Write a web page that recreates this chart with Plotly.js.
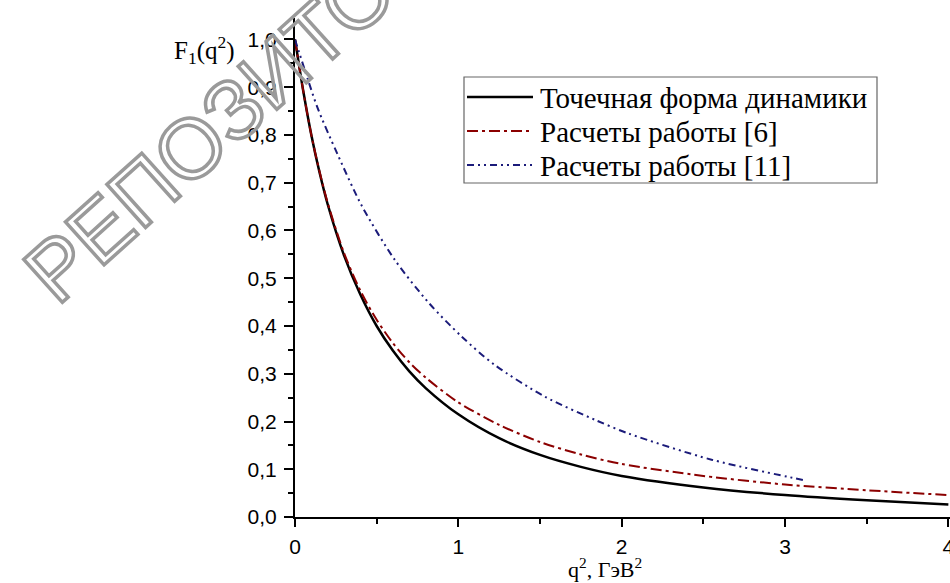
<!DOCTYPE html>
<html>
<head>
<meta charset="utf-8">
<script src="https://cdn.plot.ly/plotly-3.0.1.min.js"></script>
<style>html,body{margin:0;padding:0;background:#fff;}</style>
</head>
<body>
<div id="chart" style="width:950px;height:583px;"></div>
<script>
// Series names
const seriesNames = ["Точечная форма динамики", "Расчеты работы [6]", "Расчеты работы [11]"];

// Точечная форма динамики (black solid)
const xBlack = [0, 0.05, 0.1, 0.15, 0.2, 0.3, 0.4, 0.5, 0.6, 0.7, 0.8, 1.0, 1.25, 1.5, 1.75, 2.0, 2.5, 3.0, 3.5, 4.0];
const yBlack = [1.0, 0.893, 0.80, 0.722, 0.655, 0.548, 0.466, 0.40, 0.348, 0.305, 0.27, 0.215, 0.165, 0.13, 0.105, 0.086, 0.062, 0.046, 0.035, 0.026];

// Расчеты работы [6] (dark red dash-dot)
const xRed = [0, 0.05, 0.1, 0.15, 0.2, 0.3, 0.4, 0.5, 0.6, 0.7, 0.8, 1.0, 1.25, 1.5, 1.75, 2.0, 2.5, 3.0, 3.5, 4.0];
const yRed = [1.0, 0.893, 0.80, 0.724, 0.658, 0.553, 0.474, 0.413, 0.364, 0.324, 0.292, 0.24, 0.193, 0.157, 0.131, 0.111, 0.086, 0.068, 0.056, 0.046];

// Расчеты работы [11] (navy dash-dot-dot)
const xBlue = [0, 0.08, 0.14, 0.26, 0.41, 0.61, 0.82, 1.02, 1.22, 1.53, 1.84, 2.04, 2.55, 3.06, 3.13];
const yBlue = [1.0, 0.915, 0.855, 0.76, 0.651, 0.539, 0.448, 0.378, 0.319, 0.252, 0.203, 0.175, 0.12, 0.081, 0.076];

// Tick labels
const xTickVals = [0, 1, 2, 3, 4];
const xTickText = ["0", "1", "2", "3", "4"];

const colors = ["#000000", "#8b0000", "#1b1b7a"];
const dashes = ["solid", "11px,4px,3px,4px", "7px,4px,2px,4px,2px,4px"];
const widths = [2.5, 2, 2];

const traces = [
  {x: xBlack, y: yBlack},
  {x: xRed, y: yRed},
  {x: xBlue, y: yBlue}
].map((d, i) => ({
  x: d.x, y: d.y, type: "scatter", mode: "lines", name: seriesNames[i],
  line: {color: colors[i], width: widths[i], dash: dashes[i], shape: "spline", smoothing: 0.8},
  showlegend: false, hoverinfo: "skip"
}));

// custom legend (box + sample lines + labels), paper coordinates
const plotL = 295, plotR = 950, plotT = 18, plotB = 517;
const px = v => (v - plotL) / (plotR - plotL);
const py = v => (plotB - v) / (plotB - plotT);

const shapes = [
  {type: "rect", xref: "paper", yref: "paper", x0: px(464), x1: px(877), y0: py(183), y1: py(77),
   line: {color: "#666", width: 1.2}, fillcolor: "rgba(255,255,255,0)"}
];
const annotations = [];
const rowY = [97, 131, 165];
seriesNames.forEach((n, i) => {
  shapes.push({type: "line", xref: "paper", yref: "paper", x0: px(467), x1: px(533), y0: py(rowY[i]), y1: py(rowY[i]),
    line: {color: colors[i], width: widths[i], dash: dashes[i]}});
  annotations.push({xref: "paper", yref: "paper", x: px(538), y: py(rowY[i] + 1), xanchor: "left", yanchor: "middle",
    text: n, showarrow: false, font: {family: "Liberation Serif, Times New Roman, serif", size: 29, color: "#000"}});
});

// axis titles
annotations.push({xref: "paper", yref: "paper", x: px(237), y: py(50), xanchor: "right", yanchor: "middle",
  text: "F<sub>1</sub>(q<sup>2</sup>)", showarrow: false,
  font: {family: "Liberation Serif, Times New Roman, serif", size: 25, color: "#000"}});
annotations.push({xref: "paper", yref: "paper", x: px(605), y: py(568), xanchor: "center", yanchor: "middle",
  text: "q<sup>2</sup>, ГэВ<sup>2</sup>", showarrow: false,
  font: {family: "Liberation Serif, Times New Roman, serif", size: 22, color: "#000"}});

// watermark
annotations.push({xref: "paper", yref: "paper", x: px(275), y: py(72), xanchor: "center", yanchor: "middle",
  text: "РЕПОЗИТОРИЙ", showarrow: false, textangle: -42,
  font: {family: "Liberation Sans, Arial, sans-serif", size: 84, color: "#999"}});

const layout = {
  width: 950, height: 583,
  margin: {l: plotL, r: 950 - plotR, t: plotT, b: 583 - plotB},
  paper_bgcolor: "#fff", plot_bgcolor: "#fff",
  separators: ", ",
  showlegend: false,
  xaxis: {
    range: [0, 4.01], tickvals: xTickVals, ticktext: xTickText,
    ticks: "outside", ticklen: 8, tickwidth: 2, tickcolor: "#000",
    showline: true, linecolor: "#000", linewidth: 2, showgrid: false, zeroline: false,
    ticklabelstandoff: 2, ticklabeloverflow: "allow",
    tickfont: {family: "Liberation Sans, Arial, sans-serif", size: 21, color: "#000"},
    minor: {dtick: 0.5, tick0: 0, ticks: "outside", ticklen: 5, tickwidth: 2, tickcolor: "#000", showgrid: false}
  },
  yaxis: {
    range: [0, 1.045], dtick: 0.1, tick0: 0, tickformat: ".1f",
    ticks: "outside", ticklen: 9, tickwidth: 2, tickcolor: "#000",
    showline: true, linecolor: "#000", linewidth: 2, showgrid: false, zeroline: false,
    ticklabelstandoff: 3,
    tickfont: {family: "Liberation Sans, Arial, sans-serif", size: 21, color: "#000"},
    minor: {dtick: 0.05, tick0: 0, ticks: "outside", ticklen: 5, tickwidth: 2, tickcolor: "#000", showgrid: false}
  },
  shapes: shapes,
  annotations: annotations
};

Plotly.newPlot("chart", traces, layout, {staticPlot: true}).then(() => {
  document.querySelectorAll(".annotation-text").forEach(t => {
    if (t.textContent.indexOf("РЕПОЗ") === 0) {
      t.style.fill = "none";
      t.style.stroke = "#9a9a9a";
      t.style.strokeWidth = "3.5px";
    }
  });
});
</script>
</body>
</html>
